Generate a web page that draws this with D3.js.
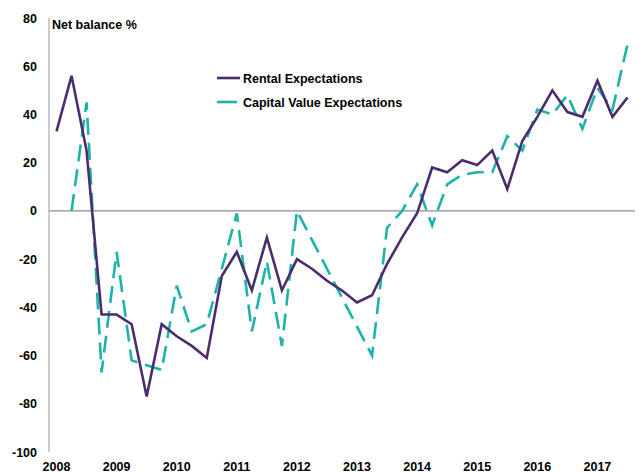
<!DOCTYPE html>
<html>
<head>
<meta charset="utf-8">
<script src="https://cdn.jsdelivr.net/npm/d3@7"></script>
<style>
  html, body { margin: 0; padding: 0; background: #fff; }
  svg text { font-family: "Liberation Sans", Arial, sans-serif; font-weight: bold; fill: #000; }
</style>
</head>
<body>
<svg id="chart" width="639" height="474"></svg>
<script>
// Quarterly periods, 2008 Q1 – 2017 Q3
const quarters = [];
for (let y = 2008; y <= 2017; y++) for (let q = 1; q <= 4; q++) {
  if (y === 2017 && q > 3) break;
  quarters.push(y + " Q" + q);
}
const yearLabels = ["2008","2009","2010","2011","2012","2013","2014","2015","2016","2017"];
const rental = [33, 56, 25, -43, -43, -47, -77, -47, -52, -56, -61, -27, -17, -33, -11, -33,
                -20, -24, -29, -33, -38, -35, -22, -11, -1, 18, 16, 21, 19, 25, 9, 29,
                39, 50, 41, 39, 54, 39, 47];
const capital = [null, 0, 45, -67, -17, -62, -64, -66, -31, -50, -47, -24, -1, -50, -21, -56,
                 0, -12, -24, -36, -48, -60, -7, 0, 11, -6, 11, 15, 16, 16, 31, 25,
                 42, 40, 48, 34, 51, 42, 69];
const yTicks = [-100, -80, -60, -40, -20, 0, 20, 40, 60, 80];

const svg = d3.select("#chart");
const x = d3.scalePoint().domain(quarters).range([49, 635]).padding(0.5);
const y = d3.scaleLinear().domain([-100, 80]).range([452, 18]);

// Y axis line
svg.append("line").attr("x1", 49).attr("x2", 49).attr("y1", y(80)).attr("y2", y(-100))
  .attr("stroke", "#9a9a9a").attr("stroke-width", 1);
// zero line
svg.append("line").attr("x1", 49).attr("x2", 635).attr("y1", y(0)).attr("y2", y(0))
  .attr("stroke", "#8c8c8c").attr("stroke-width", 1.2);

// Y tick labels
svg.append("g").selectAll("text").data(yTicks).join("text")
  .attr("x", 37).attr("y", d => y(d)).attr("dy", "0.36em")
  .attr("text-anchor", "end").attr("font-size", 12.5).text(d => d);

// Year labels at Q1 of each year
svg.append("g").selectAll("text").data(yearLabels).join("text")
  .attr("x", d => x(d + " Q1")).attr("y", 471)
  .attr("text-anchor", "middle").attr("font-size", 12.5).text(d => d);

svg.append("text").attr("x", 52).attr("y", 29).attr("font-size", 12.5).text("Net balance %");

const line = d3.line().defined(d => d[1] !== null).x(d => x(d[0])).y(d => y(d[1]));

svg.append("path").datum(quarters.map((q, i) => [q, capital[i]]))
  .attr("d", line).attr("fill", "none").attr("stroke", "#1db3a8")
  .attr("stroke-width", 2.6).attr("stroke-dasharray", "17,8");

svg.append("path").datum(quarters.map((q, i) => [q, rental[i]]))
  .attr("d", line).attr("fill", "none").attr("stroke", "#4b2d6e")
  .attr("stroke-width", 2.6).attr("stroke-linejoin", "miter");

// Legend
const legend = [
  {name: "Rental Expectations", color: "#4b2d6e", dash: null, y: 78},
  {name: "Capital Value Expectations", color: "#1db3a8", dash: "20,10", y: 102}
];
const lg = svg.append("g");
legend.forEach(l => {
  lg.append("line").attr("x1", 217).attr("x2", 240).attr("y1", l.y).attr("y2", l.y)
    .attr("stroke", l.color).attr("stroke-width", 2.6).attr("stroke-dasharray", l.dash);
  lg.append("text").attr("x", 243).attr("y", l.y).attr("dy", "0.36em")
    .attr("font-size", 12.5).text(l.name);
});
</script>
</body>
</html>
